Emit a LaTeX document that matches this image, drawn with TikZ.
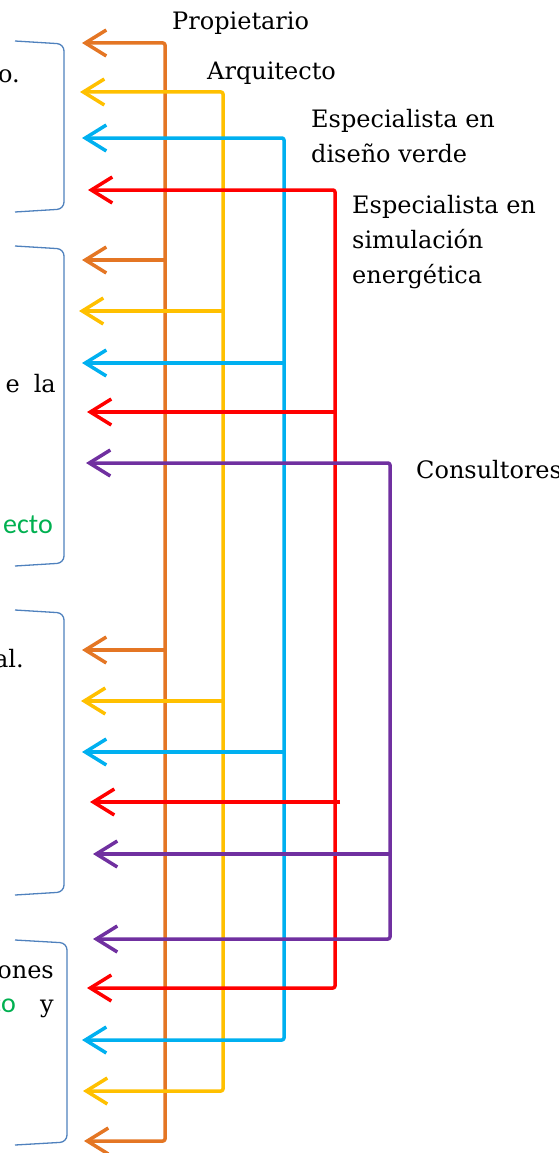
\documentclass[tikz,border=0pt]{standalone}
\usepackage{fontspec}
\setmainfont{DejaVu Serif}
\newfontfamily\verdefont{Carlito}
\usepackage{tikz}
\usetikzlibrary{arrows.meta}
\definecolor{naranja}{RGB}{228,118,36}
\definecolor{amarillo}{RGB}{255,192,0}
\definecolor{celeste}{RGB}{0,176,240}
\definecolor{rojo}{RGB}{255,0,0}
\definecolor{morado}{RGB}{112,48,160}
\definecolor{azulllave}{RGB}{79,129,189}
\definecolor{verde}{RGB}{0,176,80}
\tikzstyle{linea}=[line width=3.5pt, line join=round, rounded corners=2pt]
\tikzstyle{llave}=[draw=azulllave, line width=1.3pt, rounded corners=7pt]
\tikzstyle{rol}=[font=\fontsize{24}{35}\selectfont, align=left, anchor=base west, inner sep=0pt]
\tikzstyle{frag}=[font=\fontsize{24}{35}\selectfont, anchor=base east, inner sep=0pt]
\tikzstyle{fragv}=[font=\verdefont\fontsize{28}{35}\selectfont, text=verde, anchor=base east, inner sep=0pt]

\begin{document}
\begin{tikzpicture}[x=1pt, y=-1pt, >={Straight Barb[length=21pt, width=26pt]}]
    \useasboundingbox (0,0) rectangle (558,1153);

    % llaves
    \draw[llave] (15,41) -- (64,44) -- (64,209) -- (15,212);
    \draw[llave] (15,246) -- (64,249) -- (64,563) -- (15,566);
    \draw[llave] (15,610) -- (64,613) -- (64,892) -- (15,895);
    \draw[llave] (15,940) -- (67,943) -- (67,1142) -- (15,1145);

    % textos cortados
    \node[frag] (t1) at (20,83) {o.};
    \node[frag] (t2) at (56,392) {e\hspace{14pt}la};
    \node[fragv] (t3) at (53,533) {ecto};
    \node[frag] (t4) at (24,667) {al.};
    \node[frag] (t5) at (54,978) {ones};
    \node[frag] (t6) at (54,1012) {y};
    \node[fragv] (t7) at (16,1012) {co};

    % roles
    \node[rol] (prop) at (172,30) {Propietario};
    \node[rol] (arq) at (207,80) {Arquitecto};
    \node[rol] (verdeesp) at (311,162) {Especialista en\\dise\~no verde};
    \node[rol] (simul) at (352,283) {Especialista en\\simulaci\'on\\energ\'etica};
    \node[rol] (cons) at (416,478) {Consultores};

    % troncos
    \coordinate (O) at (165,0);
    \coordinate (A) at (223,0);
    \coordinate (C) at (284,0);
    \coordinate (R) at (335,0);
    \coordinate (M) at (390,0);

    % puntas
    \coordinate (o1) at (82,43);   \coordinate (o2) at (82,260);
    \coordinate (o3) at (82,650);  \coordinate (o4) at (84,1141);
    \coordinate (a1) at (80,92);   \coordinate (a2) at (79,311);
    \coordinate (a3) at (81,701);  \coordinate (a4) at (83,1091);
    \coordinate (c1) at (82,138);  \coordinate (c2) at (82,363);
    \coordinate (c3) at (82,752);  \coordinate (c4) at (82,1040);
    \coordinate (r1) at (88,190);  \coordinate (r2) at (87,412);
    \coordinate (r3) at (90,802);  \coordinate (r4) at (87,988);
    \coordinate (m1) at (86,463);  \coordinate (m2) at (93,854);
    \coordinate (m3) at (93,939);

    \draw[linea, naranja, <->] (o1) -- (O |- o1) -- (O |- o4) -- (o4);
    \draw[linea, naranja, ->] (O |- o2) -- (o2);
    \draw[linea, naranja, ->] (O |- o3) -- (o3);

    \draw[linea, amarillo, <->] (a1) -- (A |- a1) -- (A |- a4) -- (a4);
    \draw[linea, amarillo, ->] (A |- a2) -- (a2);
    \draw[linea, amarillo, ->] (A |- a3) -- (a3);

    \draw[linea, celeste, <->] (c1) -- (C |- c1) -- (C |- c4) -- (c4);
    \draw[linea, celeste, ->] (C |- c2) -- (c2);
    \draw[linea, celeste, ->] (C |- c3) -- (c3);

    \draw[linea, rojo, <->] (r1) -- (R |- r1) -- (R |- r4) -- (r4);
    \draw[linea, rojo, ->] (R |- r2) -- (r2);
    \draw[linea, rojo, ->] ([xshift=5pt]R |- r3) -- (r3);

    \draw[linea, morado, <->] (m1) -- (M |- m1) -- (M |- m3) -- (m3);
    \draw[linea, morado, ->] (M |- m2) -- (m2);
\end{tikzpicture}
\end{document}
